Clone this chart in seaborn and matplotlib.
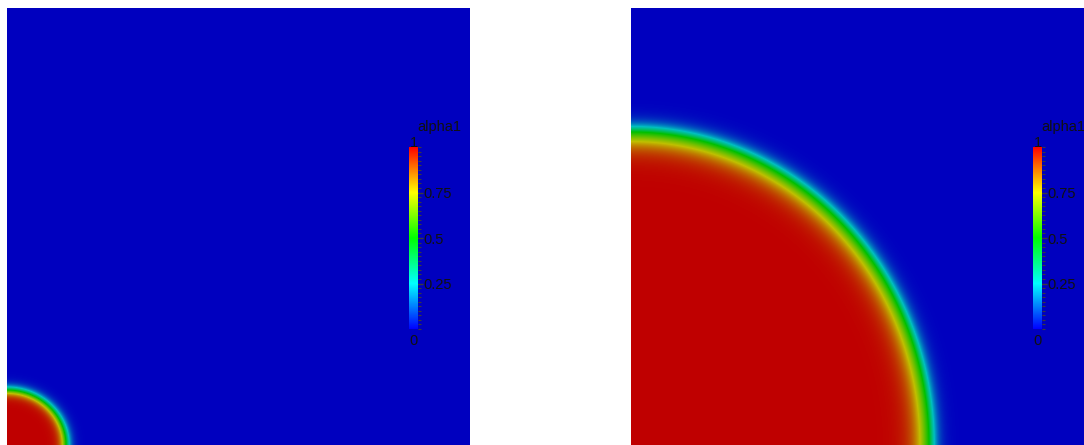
import numpy as np
import pandas as pd
import matplotlib
matplotlib.use("Agg")
import matplotlib.pyplot as plt
import seaborn as sns
from matplotlib.colors import LinearSegmentedColormap, Normalize
from matplotlib.cm import ScalarMappable
from matplotlib.ticker import MultipleLocator

sns.set_theme(style="white")
plt.rcParams["font.family"] = ["Liberation Sans", "DejaVu Sans"]

# Figure size in pixels
FIG_W, FIG_H = 1084, 445

# Mesh resolution of each field view (cells)
NX, NY = 463, 437

# Droplet parameters per snapshot (cell units, origin at lower-left corner)
snapshots = ["t0", "t1"]
radius_x = [59.0, 298.0]
radius_y = [55.0, 313.0]
width_inside = [6.5, 17.0]
width_outside = [6.0, 10.0]

# Colour bar labels
field_name = "alpha1"
cbar_ticks = [0.25, 0.5, 0.75]
cbar_ticklabels = ["0.25", "0.5", "0.75"]

# Blue-to-red rainbow (HSV hue sweep)
rainbow = ["#0000ff", "#00ffff", "#00ff00", "#ffff00", "#ff0000"]
bar_cmap = LinearSegmentedColormap.from_list("rainbow", rainbow, N=512)
# Shaded version used on the lit surface
shade = 0.75
field_cmap = LinearSegmentedColormap.from_list(
    "rainbow_shaded",
    [tuple(shade * c for c in matplotlib.colors.to_rgb(h)) for h in rainbow],
    N=512,
)


def volume_fraction(rx, ry, w_in, w_out):
    x = np.arange(NX) + 0.5
    y = np.arange(NY) + 0.5
    X, Y = np.meshgrid(x, y)
    rho = np.sqrt((X / rx) ** 2 + (Y / ry) ** 2)
    d = (rho - 1.0) * 0.5 * (rx + ry)
    w = np.where(d < 0, w_in, w_out)
    return 0.5 * (1.0 - np.tanh(d / w))


fig = plt.figure(figsize=(FIG_W / 100, FIG_H / 100), dpi=100, facecolor="white")

panel_left = [7, 631]
for i, name in enumerate(snapshots):
    x0 = panel_left[i]
    ax = fig.add_axes([x0 / FIG_W, 0, NX / FIG_W, NY / FIG_H])
    alpha = volume_fraction(radius_x[i], radius_y[i], width_inside[i], width_outside[i])
    # heatmap draws row 0 at the top, so flip rows so y grows upward
    df = pd.DataFrame(alpha[::-1])
    sns.heatmap(df, ax=ax, cmap=field_cmap, vmin=0, vmax=1, cbar=False,
                xticklabels=False, yticklabels=False, rasterized=True)
    ax.set_axis_off()

    # Colour legend
    cx = x0 + 402
    cax = fig.add_axes([cx / FIG_W, (FIG_H - 329) / FIG_H, 9 / FIG_W, 182 / FIG_H])
    cb = fig.colorbar(ScalarMappable(norm=Normalize(0, 1), cmap=bar_cmap), cax=cax)
    cb.outline.set_visible(False)
    cb.set_ticks(cbar_ticks)
    cb.set_ticklabels(cbar_ticklabels)
    cax.yaxis.set_minor_locator(MultipleLocator(0.025))
    cax.tick_params(which="major", axis="y", length=7, width=1.0, color="#3c3c3c",
                    direction="inout", labelsize=10.5, pad=0.5, labelcolor="#111111")
    cax.tick_params(which="minor", axis="y", length=2.5, width=0.8, color="#3c3c3c",
                    direction="out")
    cax.text(0.5, 1.0, "1", transform=cax.transAxes, ha="center", va="baseline",
             fontsize=10.5, color="#111111")
    cax.text(0.5, -0.025, "0", transform=cax.transAxes, ha="center", va="top",
             fontsize=10.5, color="#111111")
    fig.text((cx + 8) / FIG_W, 1 - 131 / FIG_H, field_name, ha="left", va="baseline",
             fontsize=10.5, color="#111111")

fig.savefig("out.png", dpi=100, facecolor="white")
